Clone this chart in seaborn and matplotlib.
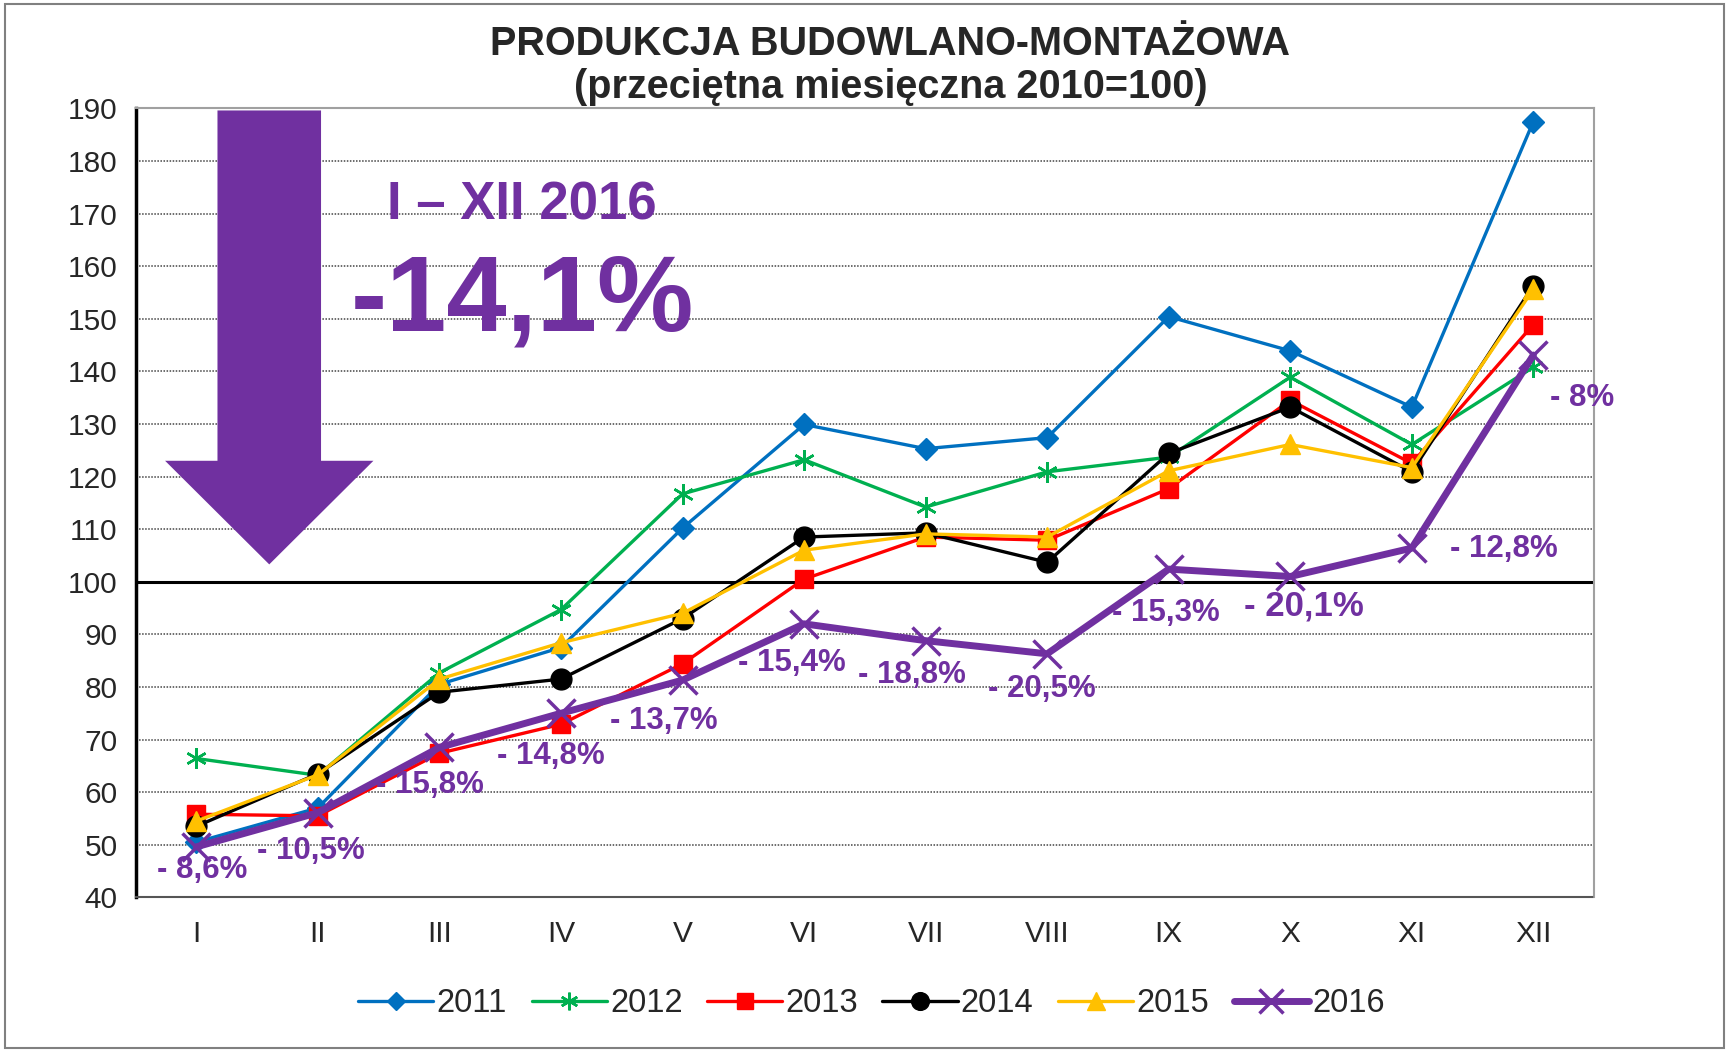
import numpy as np
import matplotlib
matplotlib.use("Agg")
import matplotlib.pyplot as plt
from matplotlib.patches import Polygon, Rectangle
import seaborn as sns

# data
months = ["I", "II", "III", "IV", "V", "VI", "VII", "VIII", "IX", "X", "XI", "XII"]
v2011 = [50.5, 57.0, 80.5, 87.5, 110.2, 129.9, 125.3, 127.4, 150.4, 143.9, 133.2, 187.5]
v2012 = [66.4, 63.2, 82.7, 94.7, 116.7, 123.2, 114.2, 120.9, 123.7, 138.9, 126.1, 140.8]
v2013 = [55.8, 55.5, 67.4, 72.9, 84.4, 100.5, 108.5, 107.9, 117.7, 134.5, 122.5, 148.9]
v2014 = [53.5, 63.5, 79.0, 81.5, 93.0, 108.5, 109.3, 103.7, 124.4, 133.2, 120.9, 156.3]
v2015 = [54.5, 63.3, 81.5, 88.4, 94.0, 106.0, 109.1, 108.5, 121.1, 126.1, 121.7, 155.6]
v2016 = [49.6, 56.1, 68.5, 75.0, 81.3, 92.0, 88.8, 86.3, 102.4, 101.0, 106.4, 143.1]
years = ["2011", "2012", "2013", "2014", "2015", "2016"]
series = [v2011, v2012, v2013, v2014, v2015, v2016]
change_labels = ["- 8,6%", "- 10,5%", "- 15,8%", "- 14,8%", "- 13,7%", "- 15,4%",
                 "- 18,8%", "- 20,5%", "- 15,3%", "- 20,1%", "- 12,8%", "- 8%"]

colors = ["#0070C0", "#00B050", "#FF0000", "#000000", "#FFC000", "#7030A0"]
markers = ["D", (6, 2, 0), "s", "o", "^", "x"]
msizes = [11, 15, 13, 15, 15, 20]
lwidths = [2.4, 2.4, 2.4, 2.4, 2.4, 5]
mew = [1, 1.8, 1, 1, 1, 2.5]
# label offsets relative to 2016 points (x in months, y in index units)
lab_dx = [0.05, -0.06, -0.08, -0.08, -0.15, -0.1, -0.11, -0.04, -0.02, 0.11, 0.76, 0.4]
lab_dy = [-4.4, -7.3, -7.1, -8.2, -7.8, -7.4, -6.5, -6.7, -8.4, -5.7, -0.2, -8.2]
lab_size = [22.5] * 9 + [25, 22.5, 22.5]

sns.set_style("white")
plt.rcParams["font.family"] = ["Liberation Sans", "DejaVu Sans"]

fig = plt.figure(figsize=(17.29, 10.52), dpi=100)
ax = fig.add_axes([0.0784, 0.147, 0.922 - 0.0784, 0.897 - 0.147])

x = np.arange(len(months))
for yr, vals, c, m, ms, lw, mw in zip(years, series, colors, markers, msizes, lwidths, mew):
    sns.lineplot(x=x, y=vals, ax=ax, color=c, marker=m, markersize=ms, linewidth=lw,
                 markeredgecolor=c, markeredgewidth=mw, label=yr, zorder=3 if yr != "2016" else 4)

ax.set_xlim(-0.5, 11.5)
ax.set_ylim(40, 190)
ax.set_yticks(np.arange(40, 191, 10))
ax.set_xticks(x)
ax.set_xticklabels(months)
ax.tick_params(axis="x", length=0, pad=16, labelsize=21.5)
ax.tick_params(axis="y", length=7, width=2, color="black", direction="out", pad=6, labelsize=21.5)
ax.yaxis.grid(True, color="#444444", linestyle=(0, (1, 1)), linewidth=1.1)
ax.axhline(100, color="black", linewidth=2.2, zorder=2)
ax.spines["left"].set_color("black")
ax.spines["left"].set_linewidth(2.5)
for s in ["top", "right"]:
    ax.spines[s].set_color("#A0A0A0")
    ax.spines[s].set_linewidth(1.5)
ax.spines["bottom"].set_color("#555555")
ax.spines["bottom"].set_linewidth(1.5)
ax.spines["bottom"].set_linestyle((0, (1, 1)))

# 2016 change labels
for i, t in enumerate(change_labels):
    ax.text(x[i] + lab_dx[i], v2016[i] + lab_dy[i], t, color="#7030A0", fontsize=lab_size[i],
            fontweight="bold", ha="center", va="center", zorder=5)

# big arrow
arrow = Polygon([(0.174, 189.6), (1.026, 189.6), (1.026, 123.0), (1.457, 123.0),
                 (0.6, 103.3), (-0.257, 123.0), (0.174, 123.0)],
                closed=True, facecolor="#7030A0", edgecolor="none", zorder=2.5)
ax.add_patch(arrow)

fig.text(0.302, 0.805, "I – XII 2016", color="#7030A0", fontsize=38, fontweight="bold",
         ha="center", va="center")
fig.text(0.302, 0.712, "-14,1%", color="#7030A0", fontsize=78, fontweight="bold",
         ha="center", va="center")

fig.text(0.515, 0.958, "PRODUKCJA BUDOWLANO-MONTAŻOWA", fontsize=28.5, fontweight="bold",
         ha="center", va="center")
fig.text(0.515, 0.917, "(przeciętna miesięczna 2010=100)", fontsize=28.5, fontweight="bold",
         ha="center", va="center")

ax.legend(loc="center", bbox_to_anchor=(0.504, 0.046), bbox_transform=fig.transFigure,
          ncol=6, frameon=False, fontsize=23.5, handlelength=2.3, columnspacing=0.75,
          handletextpad=0.1, markerscale=0.85)

fig.patches.append(Rectangle((0.003, 0.004), 0.994, 0.992, transform=fig.transFigure,
                             fill=False, edgecolor="#808080", linewidth=1.5))

fig.savefig("out.png", dpi=100)
